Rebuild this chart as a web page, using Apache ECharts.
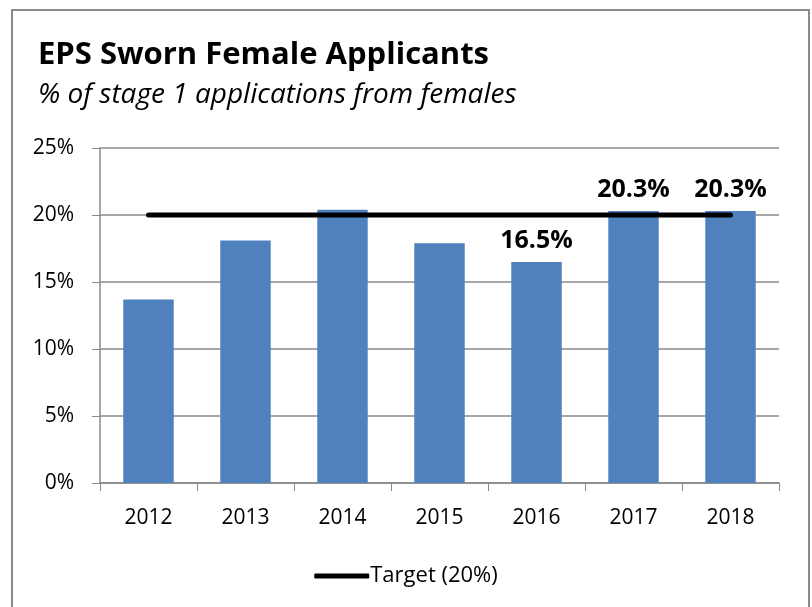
<!DOCTYPE html>
<html>
<head>
<meta charset="utf-8">
<script src="https://cdn.jsdelivr.net/npm/echarts@6/dist/echarts.min.js"></script>
<style>
  html, body { margin: 0; padding: 0; background: #fff; }
  #chart { width: 812px; height: 607px; }
</style>
</head>
<body>
<div id="chart"></div>
<script>
var years = ['2012', '2013', '2014', '2015', '2016', '2017', '2018'];
var femalePct = [13.7, 18.1, 20.4, 17.9, 16.5, 20.3, 20.3];
var targetPct = [20, 20, 20, 20, 20, 20, 20];
var labelledYears = ['2016', '2017', '2018'];

var font = '"Open Sans", Lato, sans-serif';
var grey = '#8a8a8a';

var myChart = echarts.init(document.getElementById('chart'));

var barData = femalePct.map(function (v, i) {
    return {
        value: v,
        label: { show: labelledYears.indexOf(years[i]) >= 0 }
    };
});

var option = {
    animation: false,
    textStyle: { fontFamily: font },
    graphic: [
        {
            type: 'rect',
            shape: { x: 12, y: 10, width: 797, height: 620 },
            style: { fill: 'none', stroke: grey, lineWidth: 2 }
        }
    ],
    title: {
        text: 'EPS Sworn Female Applicants',
        subtext: '% of stage 1 applications from females',
        left: 33,
        top: 35,
        itemGap: 10,
        textStyle: { fontFamily: font, fontSize: 31, fontWeight: 'bold', color: '#000' },
        subtextStyle: { fontFamily: font, fontSize: 28, fontStyle: 'italic', color: '#000' }
    },
    legend: {
        bottom: 15,
        left: 'center',
        itemWidth: 55,
        itemHeight: 5,
        itemGap: 10,
        textStyle: { fontFamily: font, fontSize: 22, color: '#000', padding: [0, 0, 0, -4] },
        data: [{ name: 'Target (20%)', icon: 'roundRect' }]
    },
    grid: { left: 100, right: 33, top: 148, bottom: 124 },
    xAxis: {
        type: 'category',
        data: years,
        axisLine: { lineStyle: { color: grey, width: 1.5 } },
        axisTick: { show: true, length: 8, lineStyle: { color: grey } },
        axisLabel: { fontFamily: font, fontSize: 21, color: '#000', margin: 25 }
    },
    yAxis: {
        type: 'value',
        min: 0,
        max: 25,
        interval: 5,
        axisLine: { show: true, lineStyle: { color: grey, width: 1.5 } },
        axisTick: { show: true, length: 8, lineStyle: { color: grey } },
        axisLabel: { fontFamily: font, fontSize: 21, color: '#000', margin: 26, formatter: '{value}%' },
        splitLine: { lineStyle: { color: grey, width: 1.5 } }
    },
    series: [
        {
            name: 'Female applicants',
            type: 'bar',
            barCategoryGap: '48%',
            itemStyle: { color: '#4F81BD' },
            label: {
                position: 'top',
                distance: 9,
                fontFamily: font,
                fontSize: 25,
                fontWeight: 'bold',
                color: '#000',
                formatter: function (p) { return p.value.toFixed(1) + '%'; }
            },
            data: barData
        },
        {
            name: 'Target (20%)',
            type: 'line',
            symbol: 'none',
            lineStyle: { color: '#000', width: 5, cap: 'round' },
            itemStyle: { color: '#000' },
            data: targetPct
        }
    ]
};
myChart.setOption(option);
</script>
</body>
</html>
